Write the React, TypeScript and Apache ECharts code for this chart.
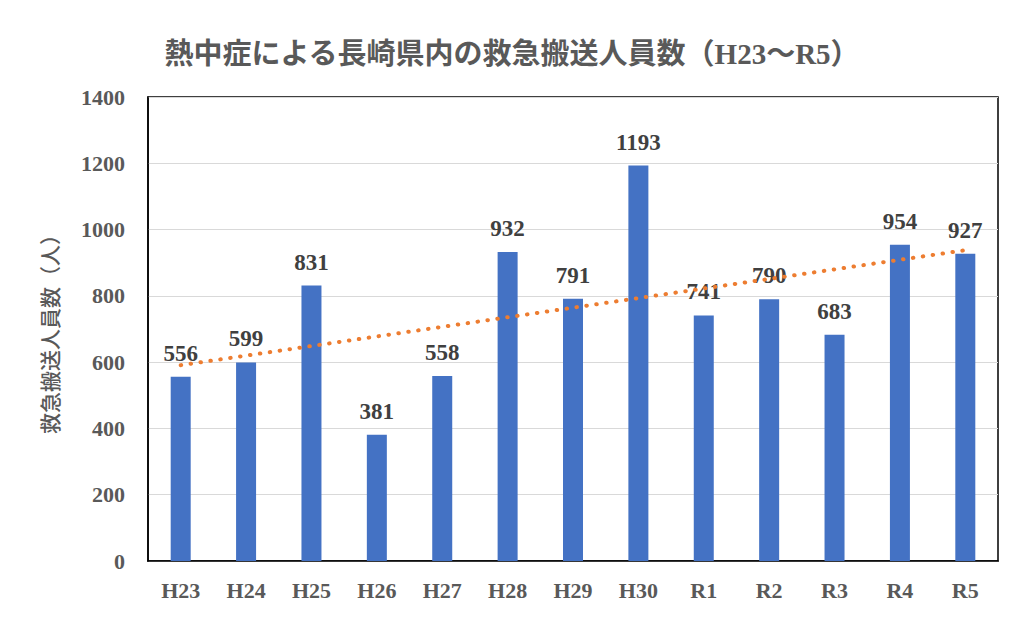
import React, { useEffect, useRef } from "react";
import * as echarts from "echarts";

const categories = ["H23", "H24", "H25", "H26", "H27", "H28", "H29", "H30", "R1", "R2", "R3", "R4", "R5"];
const values = [556, 599, 831, 381, 558, 932, 791, 1193, 741, 790, 683, 954, 927];
const yTicks = { min: 0, max: 1400, interval: 200 };
const titleText = "熱中症による長崎県内の救急搬送人員数（H23〜R5）";
const yName = "救急搬送人員数（人）";

// Linear trendline (least squares) derived from the series values
function trend(vals: number[]): number[] {
  const n = vals.length;
  const mx = (n - 1) / 2;
  const my = vals.reduce((a, b) => a + b, 0) / n;
  let sxy = 0, sxx = 0;
  vals.forEach((v, i) => { sxy += (i - mx) * (v - my); sxx += (i - mx) * (i - mx); });
  const b = sxy / sxx;
  return vals.map((_, i) => my + b * (i - mx));
}

const serif = "'Liberation Serif', 'Noto Sans CJK JP', serif";
const cjk = "'Liberation Serif', 'Noto Sans CJK JP', sans-serif";

export default function App() {
  const ref = useRef<HTMLDivElement>(null);
  useEffect(() => {
    if (!ref.current) return;
    const chart = echarts.init(ref.current, null, { renderer: "svg" });
    chart.setOption({
      animation: false,
      backgroundColor: "#fff",
      title: {
        text: titleText,
        left: "center",
        top: 34,
        textStyle: { fontFamily: cjk, fontSize: 29, fontWeight: "bold", color: "#595959" },
      },
      grid: {
        left: 148, right: 26, top: 97, bottom: 71,
        show: true, borderColor: "#000", borderWidth: 1.5, backgroundColor: "transparent",
      },
      xAxis: {
        type: "category",
        data: categories,
        axisTick: { show: false },
        axisLine: { show: true, lineStyle: { color: "#000", width: 1.5 } },
        axisLabel: { margin: 18, fontFamily: serif, fontSize: 22, fontWeight: "bold", color: "#595959" },
      },
      yAxis: {
        type: "value",
        min: yTicks.min, max: yTicks.max, interval: yTicks.interval,
        name: yName,
        nameLocation: "middle",
        nameGap: 87,
        nameRotate: 90,
        nameTextStyle: { fontFamily: cjk, fontSize: 21, fontWeight: 500, color: "#595959" },
        axisLine: { show: true, lineStyle: { color: "#000", width: 1.5 } },
        axisTick: { show: false },
        splitLine: { lineStyle: { color: "#d9d9d9", width: 1 } },
        axisLabel: {
          margin: 23, fontFamily: serif, fontSize: 22, fontWeight: "bold", color: "#595959",
          formatter: (v: number) => String(v),
        },
      },
      series: [
        {
          type: "bar",
          data: values,
          barWidth: 20,
          itemStyle: { color: "#4472C4" },
          label: {
            show: true, position: "top", distance: 12,
            fontFamily: serif, fontSize: 23, fontWeight: "bold", color: "#404040",
          },
          z: 2,
        },
        {
          type: "line",
          data: trend(values),
          symbol: "none",
          lineStyle: { color: "#ED7D31", width: 4, type: [0.5, 9.5], cap: "round" },
          z: 3,
          silent: true,
        },
      ],
    });
    return () => chart.dispose();
  }, []);
  return <div ref={ref} style={{ position: "absolute", left: 0, top: 0, width: 1024, height: 632 }} />;
}
